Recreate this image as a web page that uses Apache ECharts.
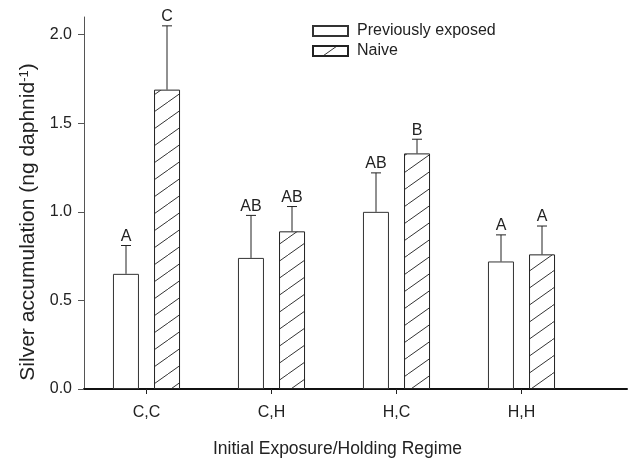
<!DOCTYPE html>
<html>
<head>
<meta charset="utf-8">
<script src="https://cdn.jsdelivr.net/npm/echarts@6/dist/echarts.min.js"></script>
<style>
  html, body { margin: 0; padding: 0; background: #fff; }
  #chart { width: 629px; height: 463px; }
</style>
</head>
<body>
<div id="chart"></div>
<script>
// data
const categories = ['C,C', 'C,H', 'H,C', 'H,H'];
const exposedMean = [0.65, 0.74, 1.00, 0.72];
const exposedSe = [0.16, 0.24, 0.22, 0.15];
const exposedLetters = ['A', 'AB', 'AB', 'A'];
const naiveMean = [1.69, 0.89, 1.33, 0.76];
const naiveSe = [0.36, 0.14, 0.08, 0.16];
const naiveLetters = ['C', 'AB', 'B', 'A'];
const yTicks = [0, 0.5, 1.0, 1.5, 2.0];

const font = 'Liberation Sans, Arial, sans-serif';
const ink = '#222';

// "/" hatch tile for the naive bars
function makeHatch() {
    const c = document.createElement('canvas');
    c.width = 24;
    c.height = 17;
    const ctx = c.getContext('2d');
    ctx.fillStyle = '#fff';
    ctx.fillRect(0, 0, c.width, c.height);
    ctx.strokeStyle = '#333';
    ctx.lineWidth = 1;
    ctx.beginPath();
    ctx.moveTo(-2.4, 18.7);
    ctx.lineTo(26.4, -1.7);
    ctx.stroke();
    return c;
}
const hatch = { image: makeHatch(), repeat: 'repeat' };

const xTicks = categories.map((c, i) => i + 0.5);
const barOffset = 20.5;

function errorSeries(name, means, ses, letters, dx) {
    return {
        type: 'custom',
        name: name + ' err',
        z: 5,
        silent: true,
        data: means.map((m, i) => [i + 0.5, m, m + ses[i]]),
        renderItem: function (params, api) {
            const base = api.coord([api.value(0), api.value(1)]);
            const top = api.coord([api.value(0), api.value(2)]);
            const x = base[0] + dx;
            const cap = 5;
            return {
                type: 'group',
                children: [
                    { type: 'line', shape: { x1: x, y1: base[1], x2: x, y2: top[1] }, style: { stroke: '#222', lineWidth: 1 } },
                    { type: 'line', shape: { x1: x - cap, y1: top[1], x2: x + cap, y2: top[1] }, style: { stroke: '#222', lineWidth: 1 } },
                    { type: 'text', x: x, y: top[1] - 1, style: { text: letters[params.dataIndex], fill: ink, font: '16px ' + font, textAlign: 'center', textVerticalAlign: 'bottom' } }
                ]
            };
        }
    };
}

const chart = echarts.init(document.getElementById('chart'));

const option = {
    animation: false,
    textStyle: { fontFamily: font },
    grid: { left: 84, right: 2, top: 17, bottom: 66 },
    legend: {
        data: ['Previously exposed', 'Naive'],
        orient: 'vertical',
        left: 307,
        top: 18,
        itemWidth: 35,
        itemHeight: 10,
        itemGap: 4,
        icon: 'rect',
        textStyle: { fontSize: 16, color: ink, fontFamily: font, padding: [0, 0, 0, 4] }
    },
    xAxis: {
        type: 'value',
        min: 0,
        max: 4.344,
        name: 'Initial Exposure/Holding Regime',
        nameLocation: 'middle',
        nameGap: 51,
        nameTextStyle: { fontSize: 17.5, color: ink, fontFamily: font, padding: [0, 36, 0, 0] },
        axisLine: { show: true, lineStyle: { color: '#111', width: 2 } },
        axisTick: { show: true, customValues: xTicks, length: 5, lineStyle: { color: '#222' } },
        axisLabel: {
            customValues: xTicks,
            formatter: v => categories[Math.round(v - 0.5)],
            fontSize: 16, color: ink, margin: 16
        },
        splitLine: { show: false }
    },
    yAxis: {
        type: 'value',
        min: 0,
        max: 2.1,
        name: 'Silver accumulation (ng daphnid{sup|-1})',
        nameLocation: 'middle',
        nameGap: 45,
        nameTextStyle: {
            fontSize: 21, color: ink, fontFamily: font, padding: [0, 38, 0, 0],
            rich: { sup: { fontSize: 13, color: ink, fontFamily: font, verticalAlign: 'top', lineHeight: 13 } }
        },
        axisLine: { show: true, lineStyle: { color: '#555', width: 1 } },
        axisTick: { show: true, customValues: yTicks, length: 6, lineStyle: { color: '#555' } },
        axisLabel: { customValues: yTicks, formatter: v => v.toFixed(1), fontSize: 16, color: ink, margin: 12 },
        splitLine: { show: false }
    },
    series: [
        {
            name: 'Previously exposed',
            type: 'bar',
            barWidth: 26,
            barGap: '58%',
            data: exposedMean.map((v, i) => [i + 0.5, v]),
            itemStyle: { color: '#fff', borderColor: '#333', borderWidth: 1 }
        },
        {
            name: 'Naive',
            type: 'bar',
            barWidth: 26,
            data: naiveMean.map((v, i) => [i + 0.5, v]),
            itemStyle: { color: hatch, borderColor: '#222', borderWidth: 1 }
        },
        errorSeries('Previously exposed', exposedMean, exposedSe, exposedLetters, -barOffset),
        errorSeries('Naive', naiveMean, naiveSe, naiveLetters, barOffset)
    ]
};

chart.setOption(option);
</script>
</body>
</html>
